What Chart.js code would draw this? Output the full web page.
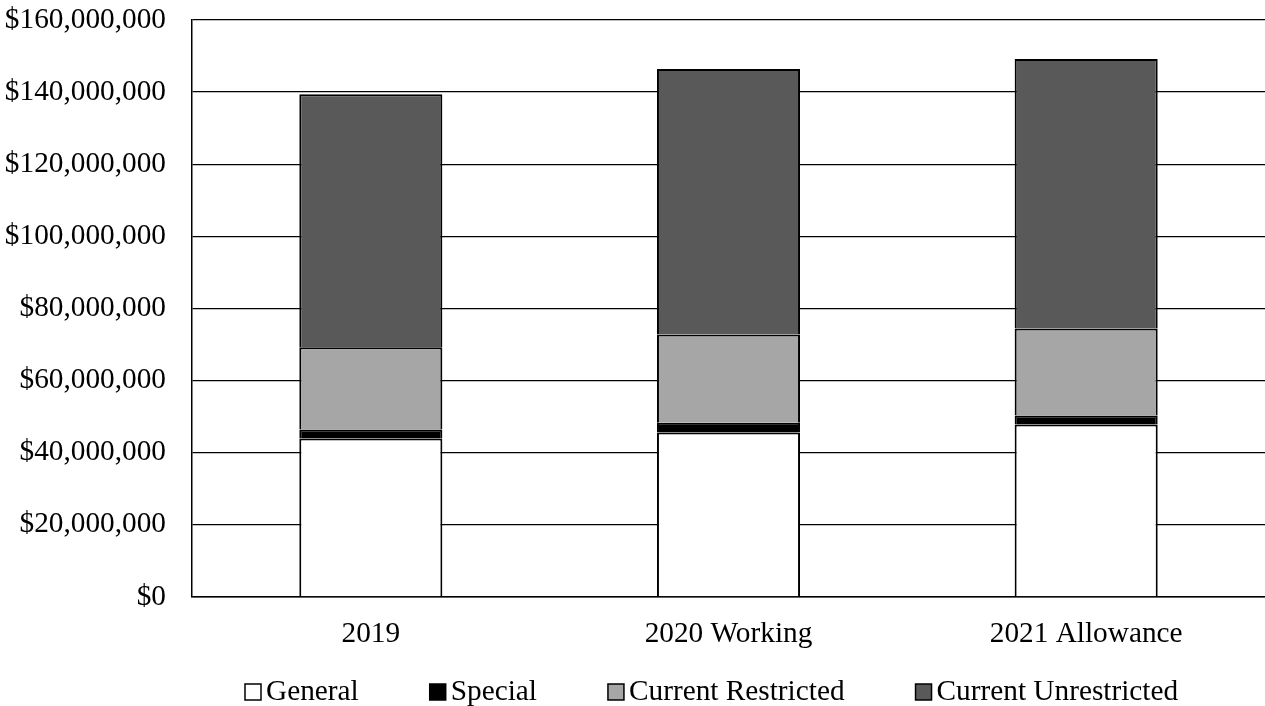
<!DOCTYPE html>
<html>
<head>
  <title>Funding by Source</title>
  <script src="https://cdn.jsdelivr.net/npm/chart.js"></script>
  <style>
    html, body { margin: 0; padding: 0; background: #fff; }
    #wrap { width: 1265px; height: 706px; }
  </style>
</head>
<body>
  <div id="wrap"><canvas id="fundChart"></canvas></div>
  <script>
    const years = ['2019', '2020 Working', '2021 Allowance'];
    const general = [43900000, 45600000, 47800000];
    const special = [2500000, 2700000, 2500000];
    const currentRestricted = [22800000, 24500000, 24100000];
    const currentUnrestricted = [70200000, 73600000, 74800000];

    const fontFamily = '"Liberation Serif", "Times New Roman", serif';
    const font = { family: fontFamily, size: 29.3 };

    // legend drawn by hand so the spacing matches the original (Excel style)
    const bottomLegend = {
      id: 'bottomLegend',
      afterDraw(chart) {
        const c = chart.ctx;
        c.save();
        c.font = font.size + 'px ' + fontFamily;
        c.textBaseline = 'middle';
        let x = 245;
        const y = 692;
        chart.data.datasets.forEach(ds => {
          c.fillStyle = ds.backgroundColor;
          c.fillRect(x, y - 8, 16, 16);
          c.strokeStyle = '#000';
          c.lineWidth = 1.5;
          c.strokeRect(x, y - 8, 16, 16);
          c.fillStyle = '#000';
          c.fillText(ds.label, x + 21, y);
          x += 16 + 5 + c.measureText(ds.label).width + 71;
        });
        c.restore();
      }
    };

    const ctx = document.getElementById('fundChart').getContext('2d');
    new Chart(ctx, {
      type: 'bar',
      data: {
        labels: years,
        datasets: [
          { label: 'General', data: general, backgroundColor: '#ffffff' },
          { label: 'Special', data: special, backgroundColor: '#000000' },
          { label: 'Current Restricted', data: currentRestricted, backgroundColor: '#a6a6a6' },
          { label: 'Current Unrestricted', data: currentUnrestricted, backgroundColor: '#595959' }
        ]
      },
      options: {
        responsive: true,
        maintainAspectRatio: false,
        animation: false,
        layout: { padding: { top: 0, right: 0, bottom: 42, left: 5 } },
        datasets: {
          bar: {
            borderColor: '#000',
            borderWidth: 2,
            barPercentage: 0.4,
            categoryPercentage: 1
          }
        },
        plugins: {
          legend: { display: false },
          tooltip: { enabled: false }
        },
        scales: {
          x: {
            stacked: true,
            grid: { display: false },
            border: { color: '#000', width: 1.5 },
            ticks: { font: font, color: '#000', padding: 12 }
          },
          y: {
            stacked: true,
            min: 0,
            max: 160000000,
            afterFit: scale => {
              scale.width = 187;
              scale.paddingTop = 20;
              scale.paddingBottom = 0;
            },
            grid: { color: '#000', lineWidth: 1.3, drawTicks: false },
            border: { color: '#000', width: 1.5 },
            ticks: {
              stepSize: 20000000,
              font: font,
              color: '#000',
              padding: 26,
              callback: v => '$' + v.toLocaleString('en-US')
            }
          }
        }
      },
      plugins: [bottomLegend]
    });
  </script>
</body>
</html>
